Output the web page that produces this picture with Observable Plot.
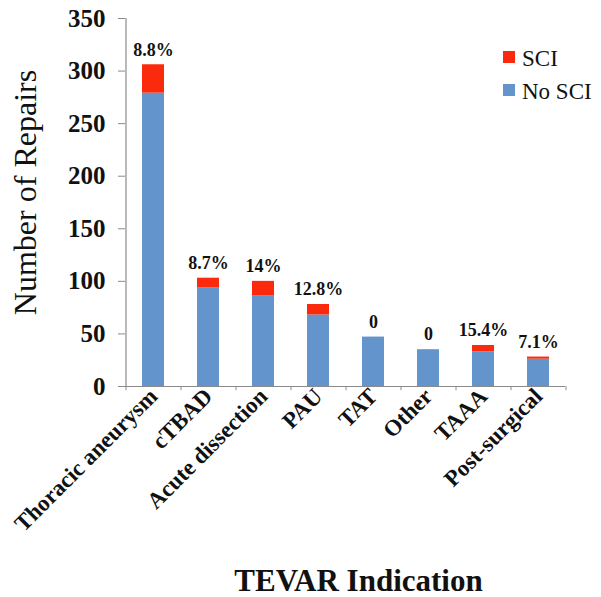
<!DOCTYPE html>
<html>
<head>
<meta charset="utf-8">
<script src="https://cdn.jsdelivr.net/npm/d3@7"></script>
<script src="https://cdn.jsdelivr.net/npm/@observablehq/plot@0.6"></script>
<style>
  body { margin: 0; background: #fff; }
  #wrap { position: relative; width: 601px; height: 597px; }
  .lg { position: absolute; left: 503px; font-family: "Liberation Serif"; font-size: 23px; line-height: 23px; color: #111; padding-left: 19px; white-space: nowrap; }
  .lg .sw { position: absolute; left: 0; top: 4px; width: 12px; height: 12px; }
</style>
</head>
<body>
<div id="wrap"></div>
<script>
const categories = ["Thoracic aneurysm", "cTBAD", "Acute dissection", "PAU", "TAT", "Other", "TAAA", "Post-surgical"];
const noSCI = [279, 94, 86, 68, 47, 35, 33, 26];
const sci   = [27, 9, 14, 10, 0, 0, 6, 2];
const pctLabels = ["8.8%", "8.7%", "14%", "12.8%", "0", "0", "15.4%", "7.1%"];
const seriesNames = ["No SCI", "SCI"];
const seriesColors = ["#6394cb", "#fb2a0c"];
const yTicks = [0, 50, 100, 150, 200, 250, 300, 350];

const rows = [];
categories.forEach((c, i) => {
  rows.push({cat: c, series: "No SCI", value: noSCI[i]});
  rows.push({cat: c, series: "SCI", value: sci[i]});
});
const totals = categories.map((c, i) => ({cat: c, total: noSCI[i] + sci[i], label: pctLabels[i]}));
const step = 55;
const ff = "Liberation Serif";

const chart = Plot.plot({
  width: 601,
  height: 597,
  marginLeft: 125,
  marginRight: 36,
  marginTop: 18,
  marginBottom: 211,
  style: {background: "white", color: "#111", fontFamily: ff},
  x: {domain: categories, paddingInner: 0.6, paddingOuter: 0.3, label: null},
  y: {domain: [0, 350], label: null},
  color: {domain: seriesNames, range: seriesColors},
  marks: [
    Plot.barY(rows, Plot.stackY({x: "cat", y: "value", fill: "series", order: seriesNames})),
    Plot.ruleY([0], {stroke: "#8a8a8a", strokeWidth: 1.2}),
    Plot.ruleX([categories[0]], {y1: 0, y2: 350, dx: -step / 2, stroke: "#8a8a8a", strokeWidth: 1.2}),
    Plot.ruleX(categories, {y1: 0, y2: -4, dx: -step / 2, stroke: "#8a8a8a"}),
    Plot.ruleX([categories[categories.length - 1]], {y1: 0, y2: -4, dx: step / 2, stroke: "#8a8a8a"}),
    Plot.axisY({ticks: yTicks, tickSize: 7, tickPadding: 13, stroke: "#8a8a8a", fill: "#111", fontSize: 25, fontWeight: "bold", label: null}),
    Plot.axisX({tickSize: 0, tickRotate: -45, tickPadding: 6, fontSize: 23, fontWeight: "bold", fill: "#111", label: null}),
    Plot.text(totals, {x: "cat", y: "total", text: "label", dy: -15, fontSize: 18, fontWeight: "bold", fill: "#111"}),
    Plot.text(["Number of Repairs"], {frameAnchor: "left", textAnchor: "middle", rotate: -90, dx: -100, dy: -10, fontSize: 32, fill: "#111"}),
    Plot.text(["TEVAR Indication"], {frameAnchor: "bottom", lineAnchor: "bottom", dx: 13, dy: 204, fontSize: 31, fontWeight: "bold", fill: "#111"})
  ]
});
chart.querySelectorAll("text, g").forEach(el => el.style.fontFamily = ff);
const wrap = document.getElementById("wrap");
wrap.append(chart);

[["SCI", seriesColors[1], 47], ["No SCI", seriesColors[0], 80]].forEach(([name, col, top]) => {
  const d = document.createElement("div");
  d.className = "lg";
  d.style.top = top + "px";
  d.innerHTML = `<span class="sw" style="background:${col}"></span>${name}`;
  wrap.appendChild(d);
});
</script>
</body>
</html>
